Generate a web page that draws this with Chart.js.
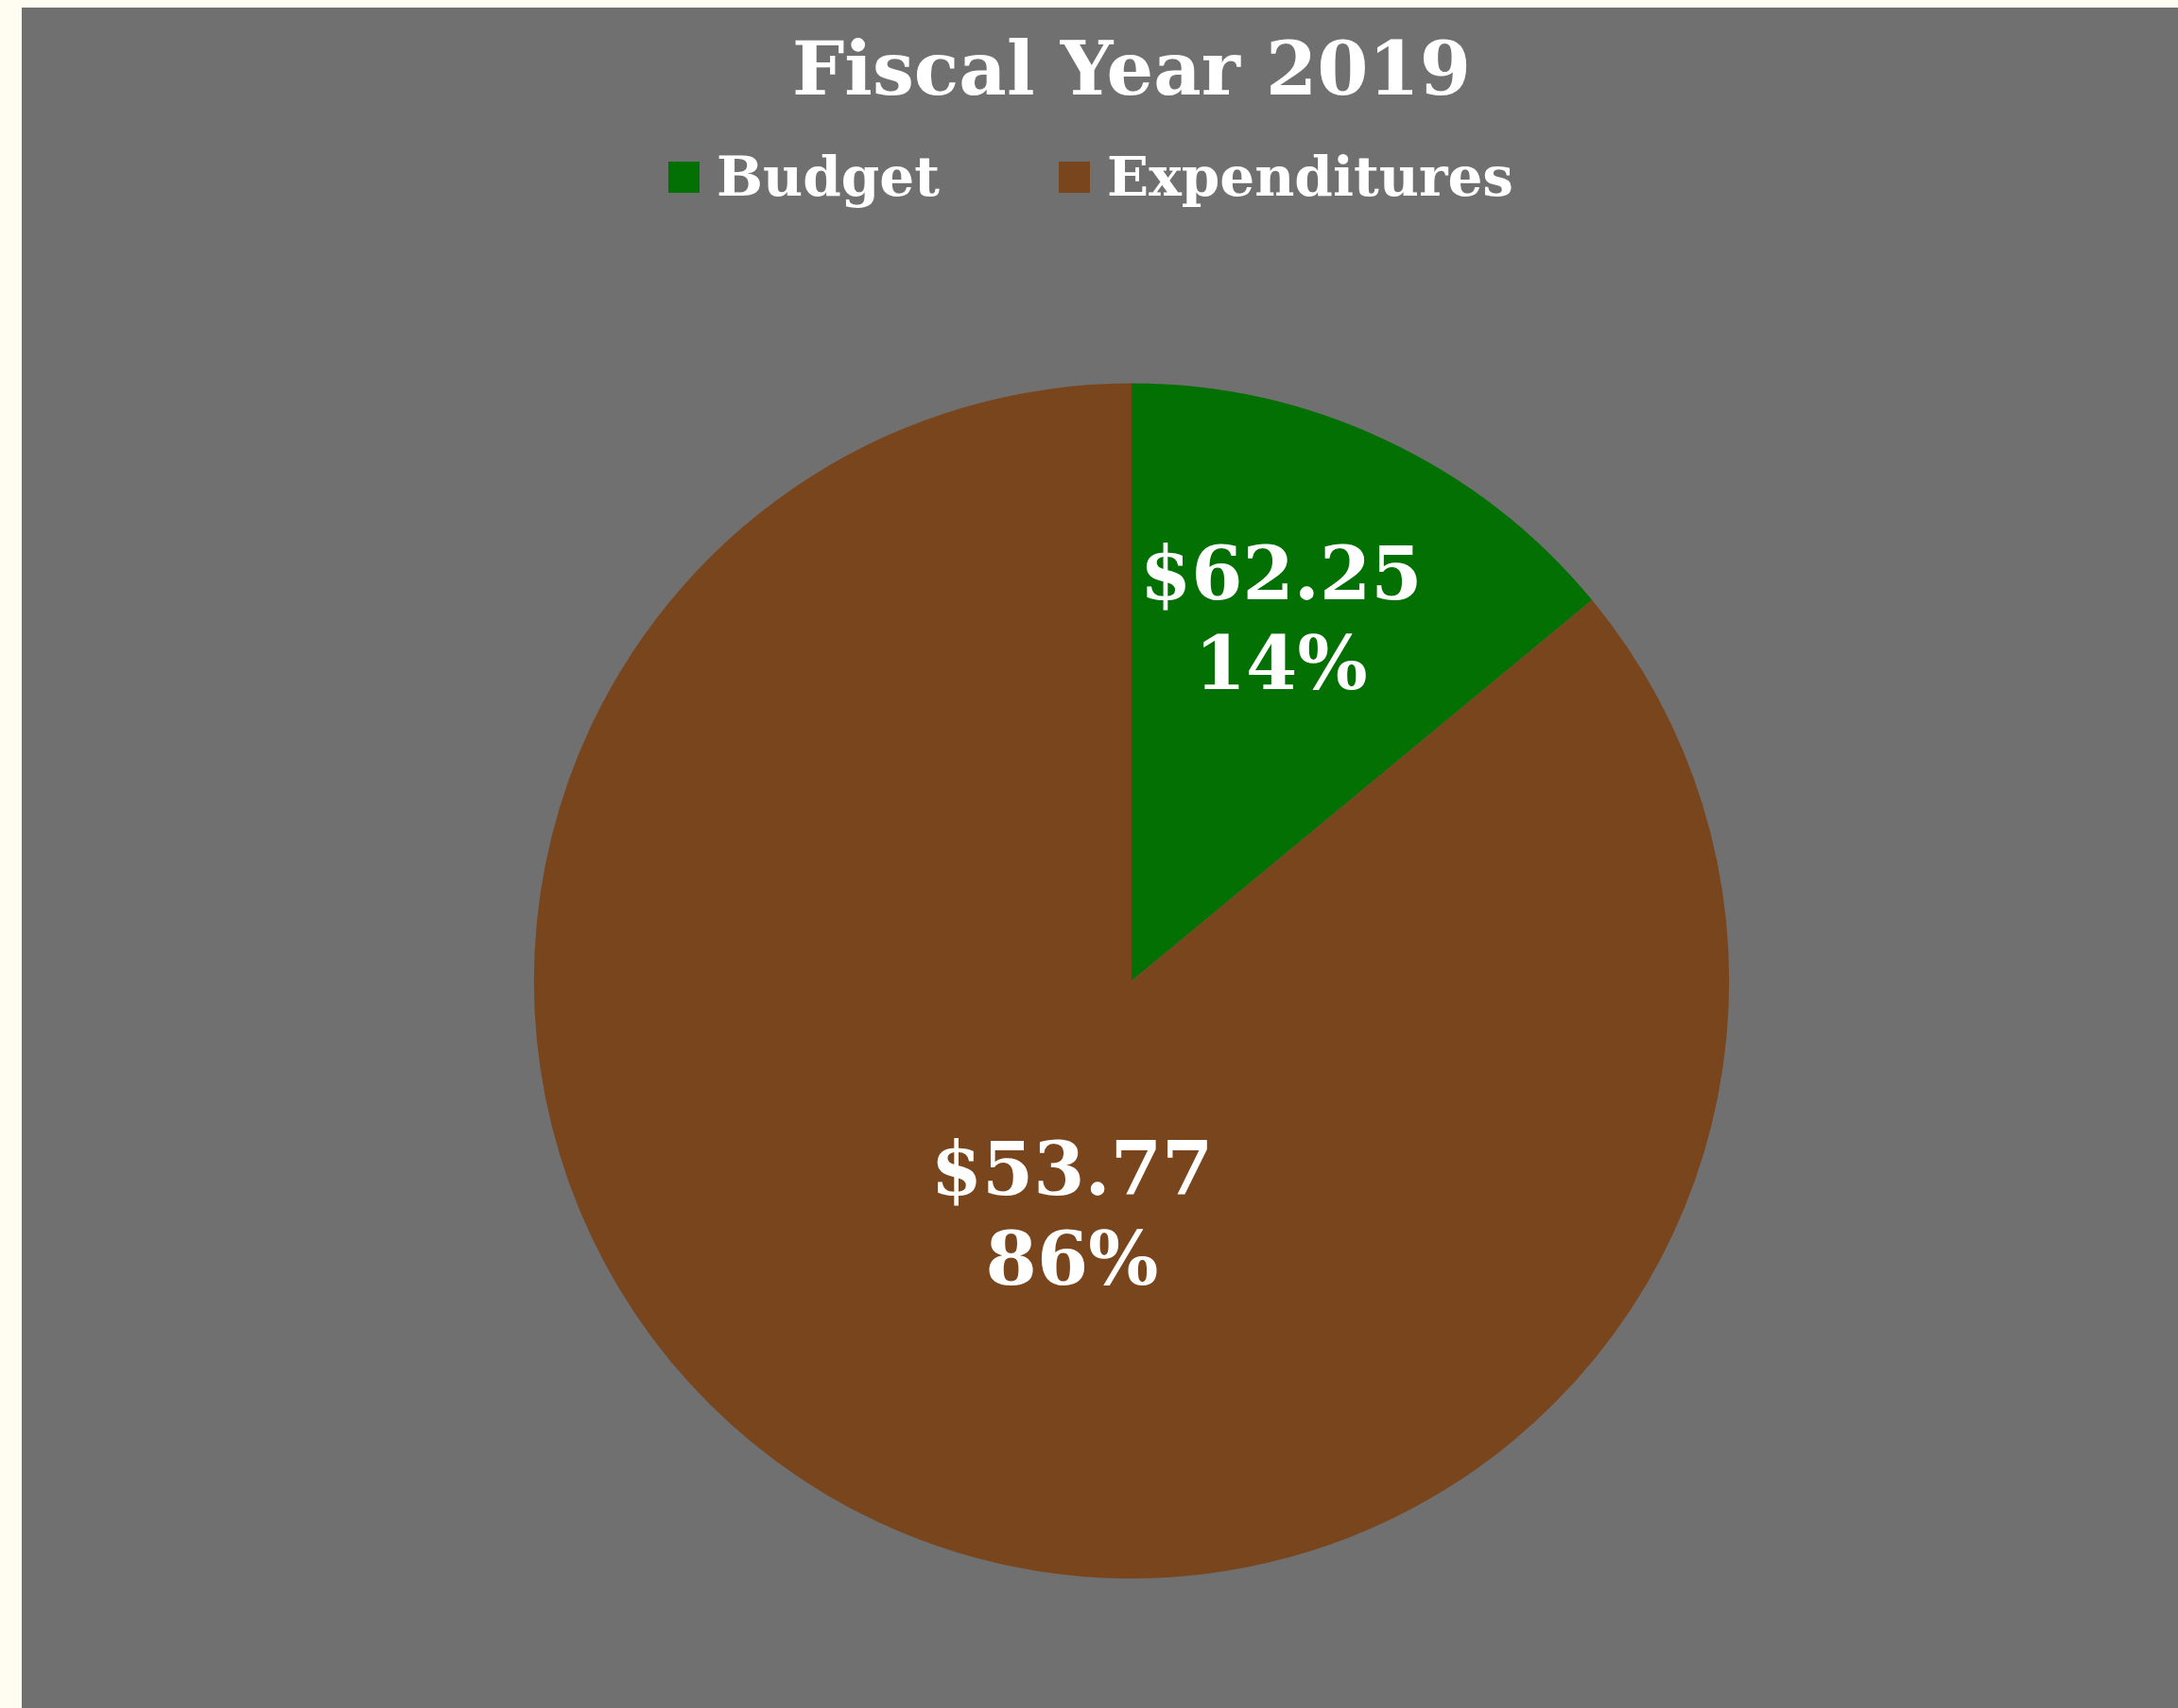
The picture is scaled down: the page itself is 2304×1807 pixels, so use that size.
<!DOCTYPE html>
<html>
<head>
<meta charset="utf-8">
<title>Fiscal Year 2019</title>
<script src="https://cdn.jsdelivr.net/npm/chart.js@4.4.1/dist/chart.umd.min.js"></script>
<style>
  html, body { margin: 0; padding: 0; background: #FFFDF2; overflow: hidden; }
  #panel {
    position: absolute; left: 23px; top: 8px;
    width: 2281px; height: 1799px;
    background: #707070;
  }
  #panel canvas { position: absolute; left: 0; top: 0; }
  #legend {
    position: absolute; left: 0; top: 150px; width: 2262px;
    display: flex; justify-content: center; gap: 126px;
    margin: 0; padding: 0; list-style: none;
    font: bold 58px "DejaVu Serif", serif; color: #fff; line-height: 1;
  }
  #legend li { display: flex; align-items: center; }
  #legend .box { width: 33px; height: 33px; margin-right: 18px; }
</style>
</head>
<body>
<div id="panel">
  <canvas id="fy" width="2281" height="1799"></canvas>
  <ul id="legend"></ul>
</div>
<script>
// slices, as shares of the whole
const categories = ['Budget', 'Expenditures'];
const shares = [14, 86];
// dollar amounts printed on each slice
const amounts = [62.25, 53.77];
const sliceColors = ['#037003', '#79451D'];

const serif = '"DejaVu Serif", serif';

// legend built as a list under the title, from the chart's own legend items
const htmlLegend = {
  id: 'htmlLegend',
  afterUpdate(chart) {
    const list = document.getElementById('legend');
    list.innerHTML = '';
    const items = chart.options.plugins.legend.labels.generateLabels(chart);
    items.forEach(item => {
      const li = document.createElement('li');
      const box = document.createElement('span');
      box.className = 'box';
      box.style.background = item.fillStyle;
      const text = document.createElement('span');
      text.textContent = item.text;
      li.appendChild(box);
      li.appendChild(text);
      list.appendChild(li);
    });
  }
};

// amount and percentage written inside each slice
const sliceLabels = {
  id: 'sliceLabels',
  afterDatasetsDraw(chart, args, opts) {
    const ctx = chart.ctx;
    const meta = chart.getDatasetMeta(0);
    ctx.save();
    ctx.fillStyle = opts.color;
    ctx.font = `bold ${opts.size}px ${serif}`;
    ctx.textAlign = 'center';
    ctx.textBaseline = 'middle';
    meta.data.forEach((arc, i) => {
      const p = arc.getProps(['x', 'y', 'startAngle', 'endAngle', 'outerRadius'], true);
      const place = opts.placement[i];
      const angle = (p.startAngle + p.endAngle) / 2 + place.shift * Math.PI / 180;
      const r = p.outerRadius * place.dist;
      const cx = p.x + Math.cos(angle) * r;
      const cy = p.y + Math.sin(angle) * r + opts.nudge;
      ctx.fillText('$' + amounts[i].toFixed(2), cx, cy - opts.lineGap / 2);
      ctx.fillText(shares[i] + '%', cx, cy + opts.lineGap / 2);
    });
    ctx.restore();
  }
};

const ctx = document.getElementById('fy').getContext('2d');

const myChart = new Chart(ctx, {
  type: 'pie',
  data: {
    labels: categories,
    datasets: [{
      data: shares,
      backgroundColor: sliceColors,
      borderWidth: 0
    }]
  },
  options: {
    responsive: false,
    animation: false,
    events: [],
    layout: {
      padding: { left: 67, right: 0, top: 0, bottom: 137 }
    },
    plugins: {
      title: {
        display: true,
        text: 'Fiscal Year 2019',
        color: '#fff',
        font: { family: serif, size: 78, weight: 'bold', lineHeight: 1.2 },
        padding: { top: 25, bottom: 279 }
      },
      legend: { display: false },
      tooltip: { enabled: false },
      sliceLabels: {
        color: '#fff',
        size: 78,
        lineGap: 95,
        nudge: 13,
        placement: [
          { shift: -3.1, dist: 0.665 },
          { shift: -10.5, dist: 0.393 }
        ]
      }
    }
  },
  plugins: [htmlLegend, sliceLabels]
});
</script>
</body>
</html>
